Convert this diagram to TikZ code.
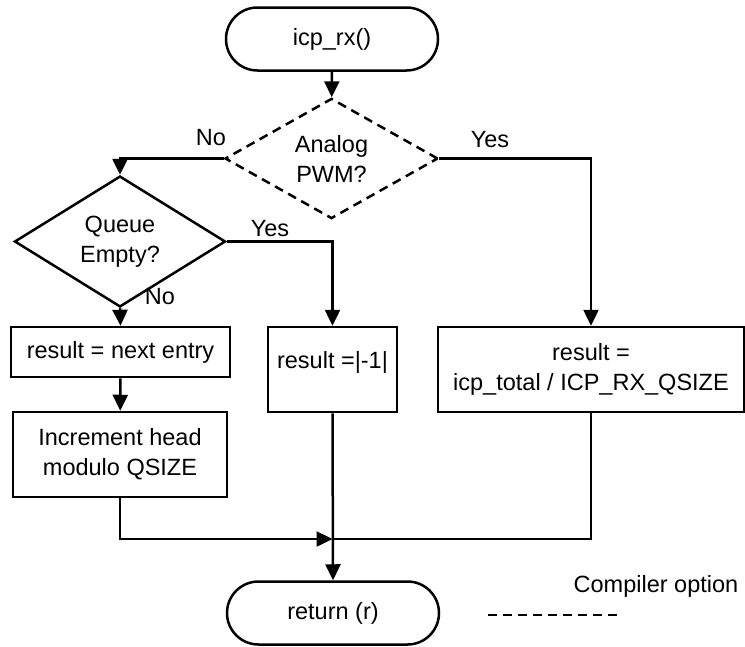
\documentclass[tikz,border=0pt]{standalone}
\usepackage{fontspec}
\setmainfont{Liberation Sans}
\usetikzlibrary{shapes.geometric,shapes.misc,arrows.meta}

\begin{document}
\begin{tikzpicture}[x=1pt,y=-1pt,
  font=\fontsize{23.5}{30}\selectfont,
  line width=2.5pt,
  >={Triangle[length=16pt,width=15pt]},
  term/.style={draw, rounded rectangle, minimum width=212pt, minimum height=63pt, inner sep=0pt},
  proc/.style={draw, rectangle, inner sep=0pt, align=center},
  decision/.style={draw, diamond, inner sep=0pt, align=center},
  optional/.style={dash pattern=on 9pt off 6pt},
  lbl/.style={inner sep=0pt}]
\useasboundingbox (0,0) rectangle (745,646);

% nodes
\node[term] (start) at (332,39) {icp\_rx()};
\node[decision, optional, minimum width=213pt, minimum height=83pt] (analog) at (331.5,158.5) {Analog\\PWM?};
\node[decision, minimum width=211pt, minimum height=83pt] (queue) at (120,241.5) {Queue\\Empty?};
\node[proc, minimum width=219pt, minimum height=50pt] (next) at (120.5,352) {result = next entry};
\node[proc, minimum width=214pt, minimum height=85pt] (incr) at (120,454.5) {Increment head\\modulo QSIZE};
\node[proc, minimum width=129pt, minimum height=85pt,
      label={[yshift=7pt]center:result =|-1|}] (neg) at (332.5,369.5) {};
\node[proc, minimum width=306pt, minimum height=85pt] (avg) at (591,369.5) {result =\\icp\_total / ICP\_RX\_QSIZE};
\node[term] (ret) at (333,613) {return (r)};
\coordinate (join) at (332.5,539);

% connectors
\draw[->] (start) -- (analog);
\draw[->] (analog.west) -| (queue.north);
\draw[->] (analog.east) -| (avg.north);
\draw[->] (queue.east) -| (neg.north);
\draw[->] (queue.south) -- (next.north);
\draw[->] (next) -- (incr);
\draw[->] (incr.south) |- (join);
\draw (avg.south) |- (join);
\draw[->] (neg.south) -- (ret.north);

% branch labels
\node[lbl] (lno1) at (211,138) {No};
\node[lbl] (lyes1) at (490,140) {Yes};
\node[lbl] (lyes2) at (270,229) {Yes};
\node[lbl] (lno2) at (160,297) {No};

% legend
\node[lbl] (legend) at (656,586) {Compiler option};
\coordinate (lgA) at (488,615);
\coordinate (lgB) at (618,615);
\draw[optional] (lgA) -- (lgB);
\end{tikzpicture}
\end{document}
